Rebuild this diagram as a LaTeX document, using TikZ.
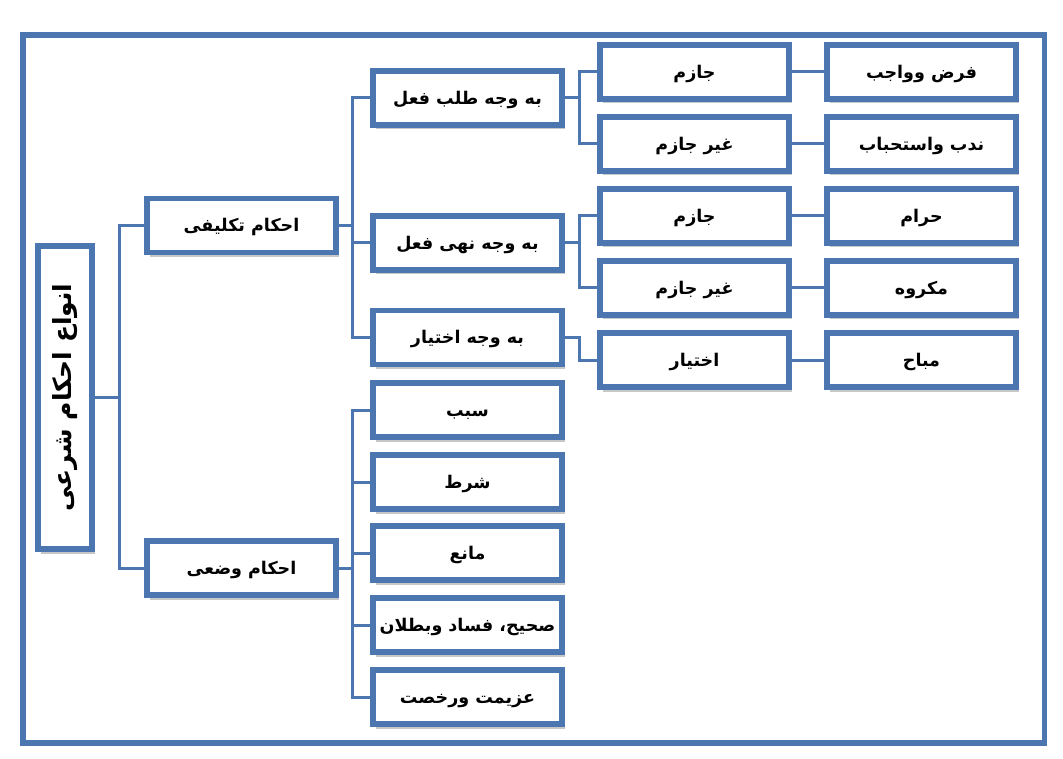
\documentclass[tikz,border=0pt]{standalone}
\usepackage{fontspec}
\newfontfamily\arabicfont[Script=Arabic]{DejaVu Sans}
\TeXXeTstate=1
\usetikzlibrary{shadows}
\definecolor{frameblue}{HTML}{4C76B0}
\tikzset{
  box/.style={draw=frameblue, line width=5.5pt, fill=white,
    minimum width=189pt, minimum height=54pt, inner sep=0pt,
    drop shadow={shadow xshift=3pt, shadow yshift=-4.5pt, fill=black, opacity=0.22},
    font=\arabicfont\bfseries\fontsize{17.5}{20}\selectfont},
  lbl/.style={text height=14pt, text depth=1pt},
  conn/.style={draw=frameblue, line width=3pt},
  frame/.style={draw=frameblue, line width=5.5pt},
}
\newcommand{\rl}[1]{\beginR #1\endR}
\begin{document}
\begin{tikzpicture}[x=1pt,y=-1pt]
\useasboundingbox[fill=white] (0,0) rectangle (1063,759);
\draw[frame] (23,35) rectangle (1044.5,743);

% root
\node[box, minimum width=54pt, minimum height=303pt] (root) at (65,397.5)
  {\rotatebox{90}{\fontsize{25}{28}\selectfont\rl{انواع احکام شرعی}}};

% level 1
\node[box, lbl] (tak) at (241.5,225.5) {\rl{احکام تکلیفی}};
\node[box, lbl] (waz) at (241.5,568) {\rl{احکام وضعی}};

% level 2
\node[box, lbl] (talab) at (467.5,98) {\rl{به وجه طلب فعل}};
\node[box, lbl] (nahy) at (467.5,243) {\rl{به وجه نهی فعل}};
\node[box, lbl] (ekht) at (467.5,337.5) {\rl{به وجه اختیار}};
\node[box, lbl] (sabab) at (467.5,410) {\rl{سبب}};
\node[box, lbl] (shart) at (467.5,482) {\rl{شرط}};
\node[box, lbl] (mani) at (467.5,553) {\rl{مانع}};
\node[box, lbl] (sahih) at (467.5,625) {\rl{صحیح، فساد وبطلان}};
\node[box, lbl] (azim) at (467.5,697) {\rl{عزیمت ورخصت}};

% level 3
\node[box, lbl] (jaz1) at (694.5,72) {\rl{جازم}};
\node[box, lbl] (gjaz1) at (694.5,144) {\rl{غیر جازم}};
\node[box, lbl] (jaz2) at (694.5,216) {\rl{جازم}};
\node[box, lbl] (gjaz2) at (694.5,288) {\rl{غیر جازم}};
\node[box, lbl] (ekht3) at (694.5,360) {\rl{اختیار}};

% level 4
\node[box, lbl] (farz) at (921.5,72) {\rl{فرض وواجب}};
\node[box, lbl] (nadb) at (921.5,144) {\rl{ندب واستحباب}};
\node[box, lbl] (haram) at (921.5,216) {\rl{حرام}};
\node[box, lbl] (makruh) at (921.5,288) {\rl{مکروه}};
\node[box, lbl] (mobah) at (921.5,360) {\rl{مباح}};

% connectors
\draw[conn] (root.east) -- ++(25,0) |- (tak.west);
\draw[conn] (root.east) -- ++(25,0) |- (waz.west);

\draw[conn] (tak.east) -- ++(14,0) |- (talab.west);
\draw[conn] (tak.east) -- ++(14,0) |- (nahy.west);
\draw[conn] (tak.east) -- ++(14,0) |- (ekht.west);

\draw[conn] (waz.east) -- ++(14,0) |- (sabab.west);
\draw[conn] (waz.east) -- ++(14,0) |- (shart.west);
\draw[conn] (waz.east) -- ++(14,0) |- (mani.west);
\draw[conn] (waz.east) -- ++(14,0) |- (sahih.west);
\draw[conn] (waz.east) -- ++(14,0) |- (azim.west);

\draw[conn] (talab.east) -- ++(15,0) |- (jaz1.west);
\draw[conn] (talab.east) -- ++(15,0) |- (gjaz1.west);
\draw[conn] (nahy.east) -- ++(15,0) |- (jaz2.west);
\draw[conn] (nahy.east) -- ++(15,0) |- (gjaz2.west);
\draw[conn] (ekht.east) -- ++(15,0) |- (ekht3.west);

\draw[conn] (jaz1.east) -- (farz.west);
\draw[conn] (gjaz1.east) -- (nadb.west);
\draw[conn] (jaz2.east) -- (haram.west);
\draw[conn] (gjaz2.east) -- (makruh.west);
\draw[conn] (ekht3.east) -- (mobah.west);
\end{tikzpicture}
\end{document}
